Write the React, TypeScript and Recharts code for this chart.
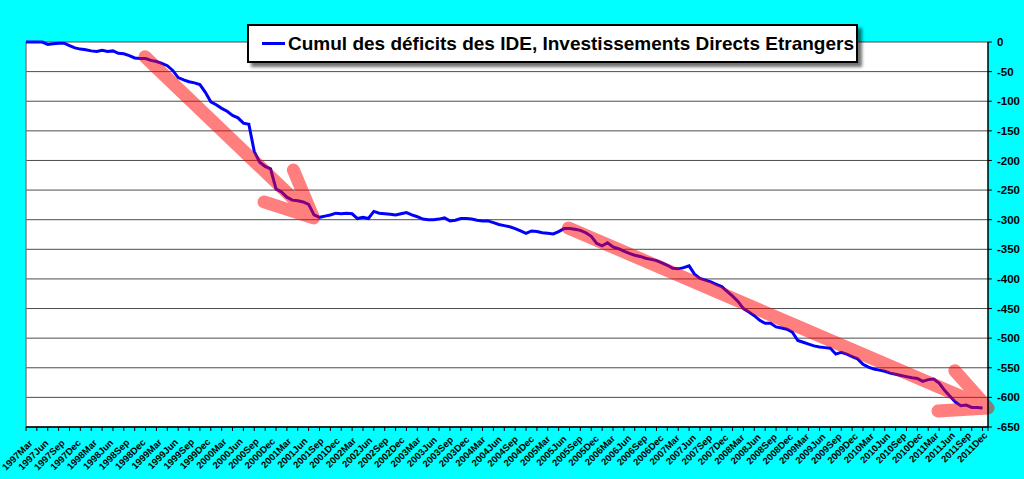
import { LineChart, Line, XAxis, YAxis, CartesianGrid, Legend, ReferenceLine } from "recharts";

const FONT = "'Liberation Sans', Arial, sans-serif";

const MONTHS = ["Jan", "Feb", "Mar", "Apr", "May", "Jun", "Jul", "Aug", "Sep", "Oct", "Nov", "Dec"];

// 1997Mar .. 2011Dec, one category per month
const CATEGORIES = Array.from(
  { length: 178 },
  (_, i) => `${1997 + Math.floor((i + 2) / 12)}${MONTHS[(i + 2) % 12]}`
);

// cumulated IDE deficit, one value per month from 1997Mar
const IDE_DEFICIT = [
  0, 0, 0, 0, -4, -3, -2, -2, -6, -10,
  -12, -13, -15, -16, -14, -16, -15, -19, -20, -23, -27, -28,
  -28, -31, -33, -36, -40, -48, -60, -64, -67, -69, -72, -85,
  -101, -106, -112, -117, -124, -128, -137, -139, -185, -203, -210, -214,
  -248, -253, -262, -267, -268, -270, -274, -292, -296, -294, -292, -289,
  -290, -289, -290, -298, -296, -298, -286, -289, -290, -291, -292, -290,
  -288, -292, -295, -299, -300, -300, -299, -297, -302, -301, -298, -298,
  -299, -301, -302, -302, -305, -308, -310, -312, -315, -319, -323, -319,
  -320, -322, -323, -324, -320, -315, -315, -316, -318, -322, -328, -340,
  -344, -339, -346, -349, -353, -357, -360, -362, -365, -367, -369, -373,
  -377, -382, -383, -381, -378, -392, -399, -402, -405, -409, -413, -421,
  -429, -438, -450, -456, -462, -470, -475, -475, -481, -483, -485, -490,
  -504, -507, -510, -513, -515, -516, -517, -527, -524, -527, -531, -535,
  -544, -549, -552, -554, -556, -559, -561, -563, -565, -567, -568, -573,
  -570, -569, -576, -588, -598, -608, -614, -613, -617, -617, -618,
];

const Y_TICKS = [0, -50, -100, -150, -200, -250, -300, -350, -400, -450, -500, -550, -600, -650];

const LEGEND_LABEL = "Cumul des déficits des IDE, Investissements Directs Etrangers";

// hand drawn arrows on the picture, in month index / value units
const ARROW_1 = [
  { idx: 21.9, v: -25 },
  { idx: 52.9, v: -297 },
  { idx: 49.2, v: -216 },
  { idx: 49.2, v: null },
  { idx: 43.8, v: -270 },
  { idx: 52.9, v: -297 },
];
const ARROW_2 = [
  { idx: 99.8, v: -314 },
  { idx: 177, v: -618 },
  { idx: 170.9, v: -555 },
  { idx: 170.9, v: null },
  { idx: 167.8, v: -623 },
  { idx: 177, v: -618 },
];

const data = CATEGORIES.map((label, i) => ({
  idx: i,
  label,
  v: i < IDE_DEFICIT.length ? IDE_DEFICIT[i] : null,
}));

const LAST = CATEGORIES.length - 1;

function XTick(props: any) {
  const { x, y, payload } = props;
  const i = payload.value as number;
  // Excel spreads the rotated labels on a slightly tighter scale than the ticks
  const t = i / LAST;
  const tx = x + 7 - 7 * t;
  const ty = y + 17 - 8 * t;
  return (
    <g>
      {(i % 2 === 0 || i === LAST) && (
        <line x1={x} x2={x} y1={y} y2={y + 4} stroke="#000" strokeWidth={1} />
      )}
      {i % 3 === 0 && (
        <text
          x={tx}
          y={ty}
          transform={`rotate(-45 ${tx} ${ty})`}
          textAnchor="end"
          fontSize={9.5}
          fontWeight="bold"
          fontFamily={FONT}
          fill="#000"
        >
          {CATEGORIES[i]}
        </text>
      )}
    </g>
  );
}

function LegendBox() {
  return (
    <div
      style={{
        width: 607,
        height: 35,
        border: "2px solid #000",
        background: "#fff",
        boxShadow: "4px 4px 3px rgba(0,0,0,0.55)",
        display: "flex",
        alignItems: "center",
        fontFamily: FONT,
        fontWeight: "bold",
        fontSize: 19,
        color: "#000",
        whiteSpace: "nowrap",
      }}
    >
      <span
        style={{
          display: "inline-block",
          width: 23,
          height: 3,
          background: "#0000ff",
          marginLeft: 13,
          marginRight: 3,
        }}
      />
      <span>{LEGEND_LABEL}</span>
    </div>
  );
}

export default function App() {
  return (
    <div
      style={{
        position: "absolute",
        left: 0,
        top: 0,
        width: 1024,
        height: 479,
        background: "#00ffff",
        fontFamily: FONT,
      }}
    >
      <LineChart
        width={1024}
        height={479}
        data={data}
        margin={{ top: 42, right: 0, left: 26, bottom: 0 }}
      >
        <CartesianGrid
          vertical={false}
          stroke="#4d4d4d"
          fill="#ffffff"
          fillOpacity={1}
        />
        <XAxis
          dataKey="idx"
          type="number"
          domain={[0, LAST]}
          ticks={CATEGORIES.map((_, i) => i)}
          interval={0}
          height={52}
          tickLine={false}
          tickSize={0}
          tickMargin={0}
          tick={<XTick />}
          axisLine={{ stroke: "#000", strokeWidth: 1.5 }}
        />
        <YAxis
          orientation="right"
          width={36}
          domain={[-650, 0]}
          ticks={Y_TICKS}
          interval={0}
          tickSize={4}
          tickMargin={5}
          tickLine={{ stroke: "#000" }}
          axisLine={{ stroke: "#000", strokeWidth: 1.5 }}
          tick={{ fill: "#000", fontSize: 11.5, fontWeight: "bold", fontFamily: FONT }}
        />
        <ReferenceLine x={0} stroke="#808080" strokeWidth={1.5} />
        <Legend
          layout="horizontal"
          verticalAlign="middle"
          align="center"
          wrapperStyle={{ left: 247, top: 24, width: "auto" }}
          content={() => <LegendBox />}
        />
        <Line
          type="linear"
          dataKey="v"
          stroke="#0000ff"
          strokeWidth={3}
          dot={false}
          activeDot={false}
          isAnimationActive={false}
        />
        <Line
          data={ARROW_1}
          type="linear"
          dataKey="v"
          stroke="#ff0000"
          strokeOpacity={0.5}
          strokeWidth={13}
          strokeLinecap="round"
          strokeLinejoin="round"
          dot={false}
          activeDot={false}
          legendType="none"
          isAnimationActive={false}
        />
        <Line
          data={ARROW_2}
          type="linear"
          dataKey="v"
          stroke="#ff0000"
          strokeOpacity={0.5}
          strokeWidth={13}
          strokeLinecap="round"
          strokeLinejoin="round"
          dot={false}
          activeDot={false}
          legendType="none"
          isAnimationActive={false}
        />
      </LineChart>
    </div>
  );
}
